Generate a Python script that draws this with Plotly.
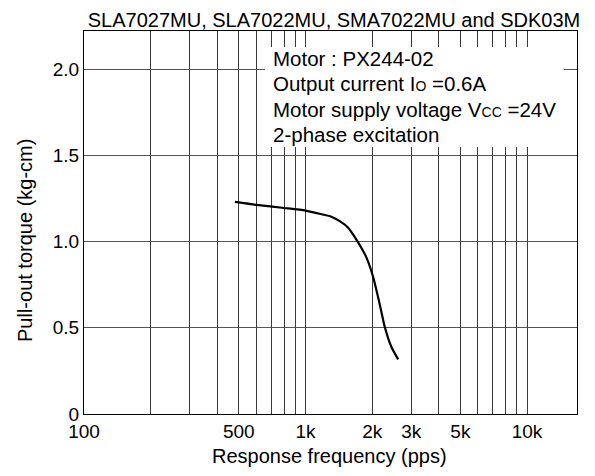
import plotly.graph_objects as go

# ---- data ----
freq_pps = [480, 600, 800, 1000, 1200, 1300, 1450, 1550, 1700, 1880, 2020, 2160, 2280, 2440, 2620]
torque_kgcm = [1.23, 1.213, 1.195, 1.18, 1.157, 1.146, 1.113, 1.083, 1.01, 0.91, 0.795, 0.64, 0.505, 0.39, 0.317]

x_grid_vals = [100, 200, 300, 400, 500, 600, 700, 800, 900, 1000,
               2000, 3000, 4000, 5000, 6000, 7000, 8000, 9000, 10000]
x_grid_text = ["100", "", "", "", "500", "", "", "", "", "1k",
               "2k", "3k", "", "5k", "", "", "", "", "10k"]
y_tick_vals = [0, 0.5, 1.0, 1.5, 2.0]
y_tick_text = ["0", "0.5", "1.0", "1.5", "2.0"]

title_text = "SLA7027MU, SLA7022MU, SMA7022MU and SDK03M"
x_title = "Response frequency (pps)"
y_title = "Pull-out torque (kg-cm)"
note_lines = [
    "Motor : PX244-02",
    "Output current I<span style='font-size:14px'>O</span> =0.6A",
    "Motor supply voltage V<span style='font-size:14px'>CC</span> =24V",
    "2-phase excitation",
]

FONT = "Liberation Sans, Arial, sans-serif"

# The page body adds an 8 px margin, so the figure is laid out 8 px smaller.
OFF = 8
W, H = 595 - OFF, 476 - OFF
# plot area in screen pixels
L, R, T, B = 84, 577, 31, 414

def px(x):
    return (x - L) / (R - L)

def py(y):
    return (B - y) / (B - T)

fig = go.Figure()
fig.add_trace(go.Scatter(
    x=freq_pps, y=torque_kgcm, mode="lines",
    line=dict(color="black", width=2.2, shape="spline", smoothing=0.6),
    showlegend=False, hoverinfo="skip",
))

shapes = [dict(type="rect", xref="paper", yref="paper",
               x0=px(265), x1=px(564), y0=py(147), y1=py(47),
               fillcolor="white", line=dict(width=0), layer="above")]

annotations = []
for txt, yc in zip(note_lines, [58, 83.7, 109, 134]):
    annotations.append(dict(text=txt, xref="paper", yref="paper",
                            x=px(271), y=py(yc), xanchor="left", yanchor="middle",
                            showarrow=False, font=dict(family=FONT, size=20.5, color="black")))

annotations.append(dict(text=x_title, xref="paper", yref="paper",
                        x=px(329), y=py(456), xanchor="center", yanchor="middle",
                        showarrow=False, font=dict(family=FONT, size=20, color="black")))
annotations.append(dict(text=y_title, xref="paper", yref="paper",
                        x=px(25), y=py(241), xanchor="center", yanchor="middle", textangle=-90,
                        showarrow=False, font=dict(family=FONT, size=20, color="black")))

fig.update_layout(
    width=W, height=H,
    margin=dict(l=L - OFF, r=W - (R - OFF), t=T - OFF, b=H - (B - OFF), pad=0),
    paper_bgcolor="white", plot_bgcolor="white",
    font=dict(family=FONT, size=19, color="black"),
    title=dict(text=title_text, x=(334 - OFF) / W, xanchor="center",
               y=1 - 11.5 / H, yanchor="middle",
               font=dict(family=FONT, size=20, color="black")),
    shapes=shapes, annotations=annotations,
    xaxis=dict(type="log", range=[2, 4.2256], tickvals=x_grid_vals, ticktext=x_grid_text,
               showgrid=True, gridcolor="#3a3a3a", gridwidth=1,
               showline=True, linecolor="black", linewidth=1, mirror=True,
               ticks="", zeroline=False, tickfont=dict(size=19)),
    yaxis=dict(range=[0, 2.2216], tickvals=y_tick_vals, ticktext=y_tick_text,
               showgrid=True, gridcolor="#555555", gridwidth=1,
               showline=True, linecolor="black", linewidth=1, mirror=True,
               ticks="", zeroline=False, tickfont=dict(size=19)),
)

fig.write_html("out.html")
